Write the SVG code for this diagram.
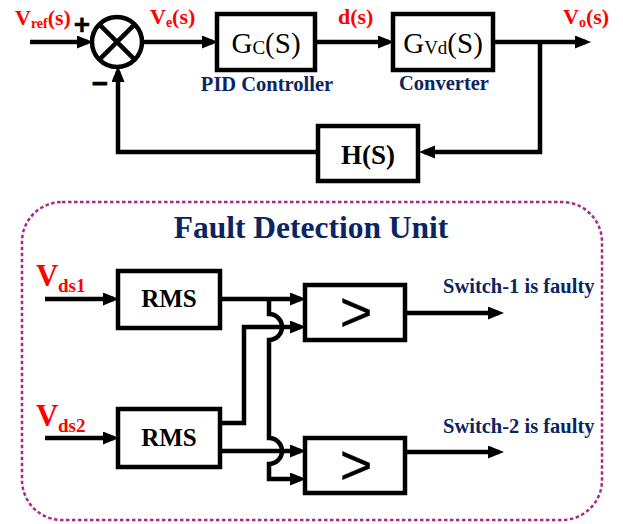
<svg xmlns="http://www.w3.org/2000/svg" width="623" height="524" viewBox="0 0 623 524">
<style>
.ln{fill:none;stroke:#000;stroke-width:4.5;stroke-linejoin:miter;stroke-linecap:butt}
.bx{fill:#fff;stroke:#000;stroke-width:4.5}
.red{fill:#ff0000;font-family:"Liberation Serif",serif;font-weight:bold}
.nv{fill:#0b2462;font-family:"Liberation Serif",serif;font-weight:bold}
.bk{fill:#000;font-family:"Liberation Serif",serif}
.sym{fill:#000;stroke:#000;stroke-linejoin:round;font-family:"Liberation Sans",sans-serif}
</style>
<defs>
<marker id="ar" markerUnits="userSpaceOnUse" markerWidth="17" markerHeight="14" refX="11" refY="6.5" orient="auto">
<path d="M0,0 L16,6.5 L0,13 z" fill="#000"/>
</marker>
</defs>
<rect x="22" y="202" width="580" height="318" rx="40" ry="40" fill="none" stroke="#a62a8c" stroke-width="2.5" stroke-dasharray="3.5 2.5"/>
<g id="connectors">
<path class="ln" d="M30,42 H88" marker-end="url(#ar)"/>
<path class="ln" d="M142,42 H213" marker-end="url(#ar)"/>
<path class="ln" d="M315,42 H389" marker-end="url(#ar)"/>
<path class="ln" d="M493,42 H586" marker-end="url(#ar)"/>
<path class="ln" d="M540,42 V152 H424" marker-end="url(#ar)"/>
<path class="ln" d="M318,152 H118 V71" marker-end="url(#ar)"/>
<path class="ln" d="M45,299 H114" marker-end="url(#ar)"/>
<path class="ln" d="M45,438 H114" marker-end="url(#ar)"/>
<path class="ln" d="M220,299 H301" marker-end="url(#ar)"/>
<path class="ln" d="M269,299 V314 A13,13 0 0,1 269,340 V438 A13,13 0 0,1 269,464 V479 H301" marker-end="url(#ar)"/>
<path class="ln" d="M220,423 H244 V327 H301" marker-end="url(#ar)"/>
<path class="ln" d="M220,451 H301" marker-end="url(#ar)"/>
<path class="ln" d="M405,313 H499" marker-end="url(#ar)"/>
<path class="ln" d="M405,452 H499" marker-end="url(#ar)"/>
</g>
<g id="sum">
<circle cx="117" cy="42" r="25" fill="#fff" stroke="#000" stroke-width="4.5"/>
<path class="ln" d="M99.3,24.3 L134.7,59.7 M134.7,24.3 L99.3,59.7"/>
<text x="82" y="34" class="sym" font-size="28" font-weight="bold" stroke-width="0.4" text-anchor="middle">+</text>
<text x="100" y="93" class="sym" font-size="28" font-weight="bold" stroke-width="0.6" text-anchor="middle">−</text>
</g>
<g id="labels-top">
<text x="15" y="25" class="red" font-size="22">V<tspan font-size="14" dy="3">ref</tspan><tspan dy="-3">(s)</tspan></text>
<text x="150" y="24" class="red" font-size="22">V<tspan font-size="14" dy="3">e</tspan><tspan dy="-3">(s)</tspan></text>
<text x="338" y="24" class="red" font-size="22">d(s)</text>
<text x="563" y="24" class="red" font-size="22">V<tspan font-size="14" dy="3">o</tspan><tspan dy="-3">(s)</tspan></text>
</g>
<g id="gc">
<rect class="bx" x="217" y="14" width="98" height="56"/>
<text x="266" y="53" class="bk" font-size="29" text-anchor="middle">G<tspan font-size="19" dy="1">C</tspan><tspan dy="-1">(S)</tspan></text>
<text x="267" y="91" class="nv" font-size="20.5" text-anchor="middle">PID Controller</text>
</g>
<g id="gvd">
<rect class="bx" x="393" y="14" width="100" height="56"/>
<text x="443" y="53" class="bk" font-size="29" text-anchor="middle">G<tspan font-size="19" dy="1">Vd</tspan><tspan dy="-1">(S)</tspan></text>
<text x="444" y="90" class="nv" font-size="20.5" text-anchor="middle">Converter</text>
</g>
<g id="h">
<rect class="bx" x="318" y="126" width="100" height="55"/>
<text x="368" y="164" class="bk" font-size="27" font-weight="bold" text-anchor="middle">H(S)</text>
</g>
<text x="311" y="238" class="nv" font-size="31.5" text-anchor="middle">Fault Detection Unit</text>
<g id="vds1">
<text x="36" y="286" class="red" font-size="31">V</text>
<text x="58" y="292" class="red" font-size="19">ds1</text>
</g>
<g id="vds2">
<text x="36" y="426" class="red" font-size="31">V</text>
<text x="58" y="432" class="red" font-size="19">ds2</text>
</g>
<g id="rms1">
<rect class="bx" x="118" y="271" width="102" height="57"/>
<text x="169" y="307" class="bk" font-size="25" font-weight="bold" text-anchor="middle">RMS</text>
</g>
<g id="rms2">
<rect class="bx" x="118" y="409" width="102" height="58"/>
<text x="169" y="446" class="bk" font-size="25" font-weight="bold" text-anchor="middle">RMS</text>
</g>
<g id="cmp1">
<rect class="bx" x="305" y="285" width="100" height="55"/>
<text x="356" y="331" class="sym" font-size="56" stroke-width="0.3" text-anchor="middle">&gt;</text>
</g>
<g id="cmp2">
<rect class="bx" x="305" y="438" width="100" height="55"/>
<text x="356" y="484" class="sym" font-size="56" stroke-width="0.3" text-anchor="middle">&gt;</text>
</g>
<text x="443" y="293" class="nv" font-size="20.5">Switch-1 is faulty</text>
<text x="443" y="433" class="nv" font-size="20.5">Switch-2 is faulty</text>
</svg>
